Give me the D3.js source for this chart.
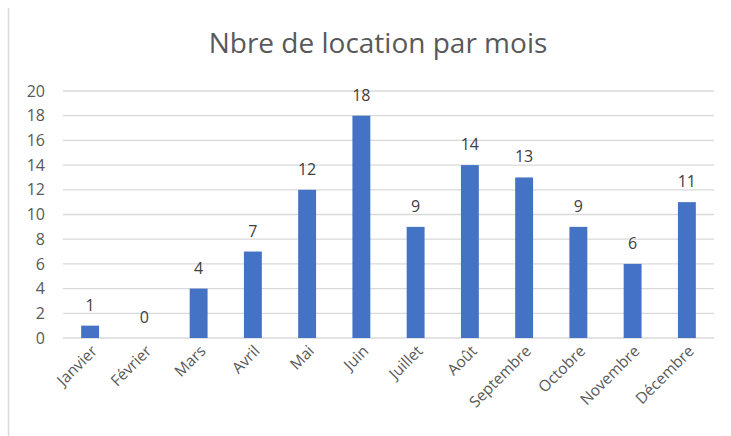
<!DOCTYPE html>
<html>
<head>
<meta charset="utf-8">
<script src="https://cdn.jsdelivr.net/npm/d3@7"></script>
<style>
  body { margin: 0; background: #fff; }
  text { font-family: 'Open Sans', sans-serif; }
</style>
</head>
<body>
<svg width="731" height="436"></svg>
<script>
const months = ['Janvier', 'Février', 'Mars', 'Avril', 'Mai', 'Juin', 'Juillet', 'Août', 'Septembre', 'Octobre', 'Novembre', 'Décembre'];
const locations = [1, 0, 4, 7, 12, 18, 9, 14, 13, 9, 6, 11];
const yTicks = [0, 2, 4, 6, 8, 10, 12, 14, 16, 18, 20];

const svg = d3.select('svg');

// left border of the chart frame
svg.append('line')
   .attr('x1', 8.5).attr('x2', 8.5)
   .attr('y1', 8).attr('y2', 436)
   .style('stroke', '#d9d9d9')
   .style('stroke-width', '1.5px');

let x = d3.scaleBand()
          .domain(months)
          .range([63, 714])
          .paddingInner(0.67)
          .paddingOuter(0.335);

let y = d3.scaleLinear()
          .domain([0, 20])
          .range([338, 91]);

// gridlines
svg.append('g')
   .selectAll('line')
   .data(yTicks)
   .enter()
   .append('line')
   .attr('x1', 63).attr('x2', 714)
   .attr('y1', d => y(d)).attr('y2', d => y(d))
   .style('stroke', '#d9d9d9')
   .style('stroke-width', '1.3px');

// y labels
let yAxis = svg.append('g')
   .attr('transform', 'translate(45, 0)')
   .call(d3.axisLeft(y).tickValues(yTicks).tickSize(0).tickPadding(0));
yAxis.select('.domain').remove();
yAxis.selectAll('text')
   .style('font-size', '16px')
   .style('fill', '#595959');

// bars
svg.append('g')
   .selectAll('rect')
   .data(locations)
   .enter()
   .append('rect')
   .attr('x', (d, i) => x(months[i]))
   .attr('y', d => y(d))
   .attr('width', x.bandwidth())
   .attr('height', d => y(0) - y(d))
   .style('fill', '#4472c4');

// data labels
svg.append('g')
   .selectAll('text')
   .data(locations)
   .enter()
   .append('text')
   .text(d => d)
   .attr('x', (d, i) => x(months[i]) + x.bandwidth() / 2)
   .attr('y', d => y(d) - 15)
   .style('text-anchor', 'middle')
   .style('font-size', '16px')
   .style('fill', '#404040');

// x labels, rotated
svg.append('g')
   .selectAll('text')
   .data(months)
   .enter()
   .append('text')
   .text(d => d)
   .attr('transform', d => `translate(${x(d) + x.bandwidth() / 2 + 8}, 352) rotate(-45)`)
   .style('text-anchor', 'end')
   .style('font-size', '15.5px')
   .style('fill', '#595959');

// title
svg.append('text')
   .text('Nbre de location par mois')
   .attr('x', 378)
   .attr('y', 53)
   .style('text-anchor', 'middle')
   .style('font-size', '28px')
   .style('fill', '#595959');
</script>
</body>
</html>
